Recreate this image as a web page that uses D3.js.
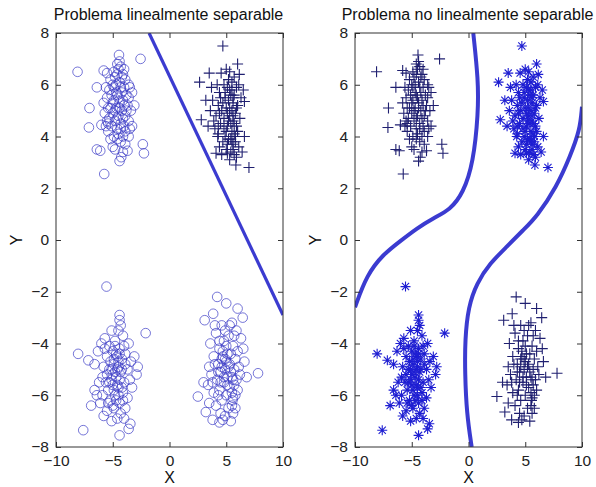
<!DOCTYPE html>
<html><head><meta charset="utf-8">
<script src="https://cdn.jsdelivr.net/npm/d3@7"></script>
<style>body{margin:0;background:#fff}svg{display:block}</style>
</head><body>
<script>
// ---- data ----
const xTicks = [-10, -5, 0, 5, 10];
const yTicks = [-8, -6, -4, -2, 0, 2, 4, 6, 8];
const titles = ["Problema linealmente separable", "Problema no linealmente separable"];

const clusterUL = [[-8.1,6.5],[-4.45,7.15],[-2.55,7.0],[-7.05,5.1],[-7.1,4.35],[-5.75,2.55],[-6.4,3.5],[-6.1,3.45],[-2.35,3.7],[-2.25,3.35],[-4.4,3.05],[-4.25,3.2],[-3.7,3.45],[-5.0,3.6],[-6.4,5.9],[-5.8,6.55],[-5.5,6.45],
[-4.6,6.8],[-4.3,6.7],[-4.5,6.6],[-4.1,6.4],[-4.8,6.3],[-5.2,6.2],[-3.9,6.2],[-4.4,6.1],[-3.5,5.9],[-4.0,5.9],[-4.9,5.9],[-5.3,5.8],[-4.2,5.7],[-3.8,5.6],[-4.6,5.6],[-5.5,5.5],[-3.6,5.5],[-4.1,5.4],[-4.9,5.4],[-5.0,5.3],[-4.4,5.3],[-3.7,5.2],[-5.4,5.1],[-4.7,5.1],[-4.2,5.0],[-3.4,5.0],[-5.7,4.9],[-5.0,4.9],[-4.5,4.8],[-3.9,4.8],[-5.3,4.7],[-4.8,4.6],[-3.6,4.6],[-4.3,4.5],[-6.0,4.45],[-5.6,4.4],[-5.1,4.4],[-3.3,4.4],[-4.6,4.3],[-3.9,4.2],[-5.4,4.2],[-4.1,4.0],[-4.9,4.0],[-4.3,3.8],[-5.2,3.9],[-3.6,4.0],[-4.0,6.6],[-5.0,6.0],[-4.7,5.7],[-3.3,5.7],[-5.8,5.3],[-4.0,4.4],[-4.6,3.9],[-5.5,4.6],[-3.1,5.2],[-4.4,6.9],[-4.9,6.5],[-3.6,6.0],[-5.6,5.9],
[-4.5,5.5],[-4.3,5.9],[-4.7,6.0],[-4.2,6.3],[-4.6,6.4],[-4.4,5.1],[-4.8,5.0],[-4.1,4.7],[-4.6,4.7],[-5.1,5.6],[-3.8,5.0],[-4.3,4.3],[-5.2,5.1],[-4.0,5.2],[-4.5,4.1],[-5.4,4.5],[-3.9,3.7],[-4.8,3.5],[-4.1,3.4],[-3.5,4.3]];

const clusterUR = [[4.7,7.5],[6.0,6.8],[2.65,6.1],[3.5,6.45],[4.55,6.45],[6.15,6.4],[7.0,2.8],[5.85,2.9],[6.6,5.35],[2.8,4.65],[3.2,5.4],[6.6,4.0],[4.1,3.35],[5.1,3.35],[4.25,4.0],
[5.2,6.2],[5.5,6.1],[4.8,6.0],[5.9,5.9],[5.3,5.8],[4.4,5.7],[5.7,5.6],[6.3,5.5],[4.9,5.5],[5.2,5.4],[3.8,5.4],[5.6,5.3],[4.3,5.2],[6.0,5.2],[5.0,5.1],[4.6,5.0],[5.5,5.0],[3.6,5.0],[5.8,4.9],[4.1,4.8],[5.3,4.8],[4.8,4.7],[6.2,4.7],[3.9,4.6],[5.6,4.6],[4.5,4.5],[5.1,4.4],[5.9,4.4],[3.4,4.4],[4.8,4.3],[5.5,4.2],[4.3,4.1],[5.8,4.0],[5.2,3.9],[4.7,3.8],[5.6,3.7],[6.1,3.6],[4.4,3.6],[5.0,3.5],[5.4,3.4],[5.7,3.3],[4.6,3.3],[5.9,3.2],[5.3,3.1],[5.5,5.8],[5.7,6.3],[4.2,6.0],[5.6,4.8],[5.4,4.5],[5.7,4.1],[5.5,3.8],[6.5,5.8],[3.7,5.9],[4.0,4.3],[6.4,3.4],[5.0,6.6],[4.9,4.0],[5.3,5.1],
[5.4,5.6],[5.1,5.9],[5.6,5.5],[4.7,5.3],[5.9,5.1],[5.2,4.6],[5.7,4.5],[4.4,4.9],[5.0,4.2],[5.4,3.9],[5.8,3.8],[5.1,3.7],[4.5,5.5],[6.1,6.0],[5.3,6.5],[4.9,5.7],[5.6,3.5],[6.0,4.2],[4.3,4.4],[5.1,4.9]];

const clusterLL = [[-5.55,-1.8],[-2.1,-3.6],[-8.05,-4.4],[-7.6,-7.35],[-4.4,-7.55],[-3.45,-7.1],[-4.4,-2.9],[-4.4,-3.1],[-4.3,-3.3],[-7.15,-4.65],[-3.6,-7.3],
[-5.1,-3.5],[-4.5,-3.5],[-5.7,-3.8],[-4.1,-3.7],[-6.0,-4.0],[-4.8,-3.9],[-3.6,-4.0],[-5.3,-4.1],[-4.4,-4.2],[-6.3,-4.3],[-5.0,-4.3],[-3.9,-4.4],[-5.5,-4.5],[-4.6,-4.5],[-6.6,-4.8],[-4.2,-4.6],[-5.2,-4.7],[-3.4,-4.7],[-4.9,-4.8],[-5.8,-4.9],[-4.5,-4.9],[-3.7,-5.0],[-5.1,-5.0],[-4.3,-5.1],[-2.9,-5.2],[-5.5,-5.2],[-4.7,-5.3],[-3.5,-5.4],[-6.2,-5.5],[-4.0,-5.5],[-5.0,-5.6],[-4.5,-5.7],[-3.3,-5.7],[-6.6,-5.8],[-5.4,-5.8],[-4.1,-5.9],[-5.9,-6.0],[-4.8,-6.0],[-3.7,-6.1],[-5.2,-6.2],[-4.4,-6.3],[-6.1,-6.3],[-6.9,-6.4],[-4.9,-6.5],[-3.9,-6.5],[-5.5,-6.6],[-4.3,-6.7],[-5.8,-6.8],[-4.6,-6.9],[-5.1,-7.0],[-4.0,-6.9],[-4.8,-4.1],[-4.4,-4.4],[-5.0,-5.2],[-4.6,-5.0],[-5.3,-5.5],[-4.9,-5.8],[-6.4,-6.0],[-3.1,-4.5],[-2.8,-4.9],
[-4.7,-4.4],[-4.9,-4.6],[-4.5,-4.7],[-4.2,-5.0],[-4.8,-5.1],[-5.3,-5.0],[-4.4,-5.4],[-4.6,-5.6],[-5.1,-5.4],[-4.2,-5.7],[-5.6,-5.5],[-4.7,-6.2],[-5.0,-6.4],[-4.5,-6.0],[-3.9,-4.8],[-5.7,-4.2],[-5.4,-6.3],[-4.1,-6.2],[-5.9,-5.3],[-4.0,-4.1]];

const clusterLR = [[4.2,-2.2],[5.0,-2.45],[6.0,-2.65],[6.45,-3.0],[3.1,-3.1],[3.85,-2.85],[7.8,-5.15],[2.5,-6.05],[3.2,-6.65],[5.4,-7.0],[3.8,-6.95],[4.4,-7.05],[4.7,-6.95],[5.55,-6.2],
[4.6,-3.3],[5.5,-3.2],[5.9,-3.5],[4.1,-3.6],[5.2,-3.7],[6.3,-3.8],[4.8,-3.9],[3.6,-4.0],[5.6,-4.1],[4.4,-4.2],[6.0,-4.3],[5.1,-4.4],[3.9,-4.5],[4.7,-4.5],[5.8,-4.6],[6.6,-4.7],[4.3,-4.8],[5.3,-4.8],[3.5,-4.9],[4.9,-5.0],[5.7,-5.0],[4.5,-5.1],[6.2,-5.2],[3.7,-5.2],[5.1,-5.3],[4.2,-5.4],[5.6,-5.4],[6.8,-5.3],[4.8,-5.5],[3.4,-5.6],[5.3,-5.7],[4.4,-5.8],[6.0,-5.8],[3.9,-5.9],[5.0,-6.0],[5.6,-6.1],[4.6,-6.2],[3.5,-6.3],[4.1,-6.4],[5.2,-6.5],[5.8,-6.5],[4.5,-6.7],[4.9,-6.8],[5.6,-6.7],[4.7,-4.3],[5.0,-4.7],[4.6,-4.9],[5.4,-5.1],[4.8,-5.3],[5.7,-5.6],[4.4,-3.9],[3.0,-5.5],[6.5,-4.2],[4.0,-3.3],
[4.9,-4.6],[5.2,-4.9],[4.6,-4.6],[5.1,-5.6],[4.5,-5.5],[5.5,-5.3],[4.3,-5.1],[5.9,-5.4],[5.4,-4.4],[5.0,-4.1],[5.7,-3.7],[4.9,-3.5],[5.3,-3.3],[5.8,-6.0],[5.5,-6.4],[4.3,-6.0],[3.8,-5.5],[4.0,-4.8],[6.1,-4.9],[5.5,-5.9]];

// marker per cluster, per panel
const markersLeft  = {UL:"circle", UR:"plus", LL:"circle", LR:"circle"};
const markersRight = {UL:"plus", UR:"star", LL:"star", LR:"plus"};

// separating line (left) and nonlinear boundaries (right)
const linearBoundary = [[-1.8, 8], [10, -2.9]];
const curveA = [[0.42,8.0],[0.86,6.18],[0.86,4.91],[0.42,2.98],[-0.46,1.82],[-1.63,1.16],[-3.10,0.85],[-4.56,0.45],[-6.04,-0.05],[-7.51,-0.55],[-8.97,-1.35],[-10,-2.6]];
const curveB = [[0.28,-8.0],[-0.16,-6.70],[-0.31,-5.15],[-0.31,-3.86],[-0.02,-2.58],[0.72,-1.67],[1.89,-0.90],[3.37,-0.26],[4.83,0.39],[6.01,0.90],[7.77,2.06],[8.94,3.22],[9.82,4.25],[10.0,5.15]];

// ---- drawing ----
const W = 596, H = 487;
const svg = d3.select("body").append("svg").attr("width", W).attr("height", H);
const font = "Liberation Sans, Arial, sans-serif";
const yTop = 33, yBottom = 447;
const panels = [{x0:56, x1:283}, {x0:355, x1:582}];
const clusters = {UL:clusterUL, UR:clusterUR, LL:clusterLL, LR:clusterLR};

panels.forEach((p, i) => {
  const x = d3.scaleLinear().domain([-10, 10]).range([p.x0, p.x1]);
  const y = d3.scaleLinear().domain([-8, 8]).range([yBottom, yTop]);
  const g = svg.append("g");
  const clipId = "clip" + i;
  svg.append("clipPath").attr("id", clipId).append("rect")
    .attr("x", p.x0).attr("y", yTop).attr("width", p.x1 - p.x0).attr("height", yBottom - yTop);

  const markers = i === 0 ? markersLeft : markersRight;
  const plotG = g.append("g").attr("clip-path", `url(#${clipId})`);
  Object.keys(clusters).forEach(k => {
    const type = markers[k];
    const data = clusters[k];
    const sel = plotG.append("g").selectAll("g").data(data).join("g")
      .attr("transform", d => `translate(${x(d[0])},${y(d[1])})`);
    if (type === "circle") {
      sel.append("circle").attr("r", 4.8).attr("fill", "none")
        .attr("stroke", "#3434c4").attr("stroke-width", 0.8).attr("stroke-opacity", 0.85);
    } else if (type === "plus") {
      sel.append("path").attr("d", "M-5.5,0H5.5M0,-5.5V5.5")
        .attr("stroke", "#1f1f70").attr("stroke-width", 1.1).attr("fill", "none");
    } else {
      sel.append("path").attr("d", "M-5,0H5M0,-5V5M-3.6,-3.6L3.6,3.6M-3.6,3.6L3.6,-3.6")
        .attr("stroke", "#1e1ed2").attr("stroke-width", 1.1).attr("fill", "none");
    }
  });

  const line = d3.line().x(d => x(d[0])).y(d => y(d[1]));
  if (i === 0) {
    plotG.append("path").datum(linearBoundary).attr("d", line)
      .attr("fill", "none").attr("stroke", "#3b3bd0").attr("stroke-width", 3.2);
  } else {
    const cl = d3.line().x(d => x(d[0])).y(d => y(d[1])).curve(d3.curveBasis);
    [curveA, curveB].forEach(c => {
      plotG.append("path").datum(c).attr("d", cl)
        .attr("fill", "none").attr("stroke", "#3b3bd0").attr("stroke-width", 4);
    });
  }

  // axes box with inward ticks
  const axisStyle = s => {
    s.select(".domain").remove();
    s.selectAll("line").attr("stroke", "#333");
    s.selectAll("text").attr("font-family", font).attr("font-size", 15.5).attr("fill", "#222");
  };
  g.append("g").attr("transform", `translate(0,${yBottom})`)
    .call(d3.axisBottom(x).tickValues(xTicks).tickSize(-5).tickPadding(8).tickFormat(d3.format("d")))
    .call(axisStyle);
  g.append("g").attr("transform", `translate(0,${yTop})`)
    .call(d3.axisTop(x).tickValues(xTicks).tickSize(-5).tickFormat(""))
    .call(axisStyle);
  g.append("g").attr("transform", `translate(${p.x0},0)`)
    .call(d3.axisLeft(y).tickValues(yTicks).tickSize(-5).tickPadding(7).tickFormat(d3.format("d")))
    .call(axisStyle);
  g.append("g").attr("transform", `translate(${p.x1},0)`)
    .call(d3.axisRight(y).tickValues(yTicks).tickSize(-5).tickFormat(""))
    .call(axisStyle);
  g.append("rect").attr("x", p.x0).attr("y", yTop).attr("width", p.x1 - p.x0).attr("height", yBottom - yTop)
    .attr("fill", "none").attr("stroke", "#333").attr("stroke-width", 1);

  g.append("text").attr("x", (p.x0 + p.x1) / 2 - 1).attr("y", 20).attr("text-anchor", "middle")
    .attr("font-family", font).attr("font-size", 16).attr("fill", "#111").text(titles[i]);
  g.append("text").attr("x", (p.x0 + p.x1) / 2).attr("y", 483).attr("text-anchor", "middle")
    .attr("font-family", font).attr("font-size", 16).attr("fill", "#111").text("X");
  g.append("text").attr("transform", `translate(${p.x0 - 40},${(yTop + yBottom) / 2}) rotate(-90)`)
    .attr("text-anchor", "middle").attr("dy", "0.35em")
    .attr("font-family", font).attr("font-size", 16).attr("fill", "#111").text("Y");
});
</script>
</body></html>
